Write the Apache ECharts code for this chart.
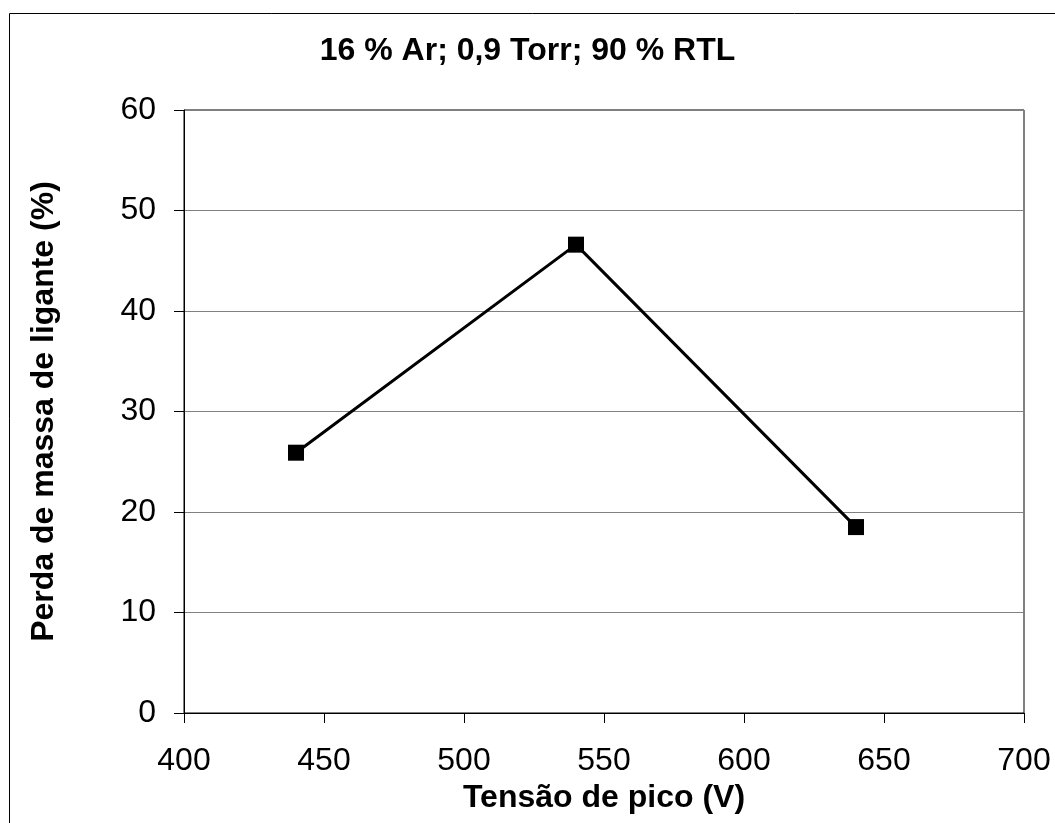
<!DOCTYPE html>
<html lang="pt">
<head>
    <meta charset="UTF-8">
    <title>Perda de massa de ligante</title>
    <script src="https://cdn.jsdelivr.net/npm/echarts@6.0.0/dist/echarts.min.js"></script>
    <style>
        body { margin: 0; padding: 0; background: #fff; }
        #chart { width: 1055px; height: 823px; }
    </style>
</head>
<body>
<div id="chart"></div>
<script>
// dados
const tensao = [440, 540, 640];
const perda = [25.9, 46.6, 18.5];
const titulo = '16 % Ar; 0,9 Torr; 90 % RTL';
const nomeX = 'Tensão de pico (V)';
const nomeY = 'Perda de massa de ligante (%)';

const fonte = '"Liberation Sans", Arial, sans-serif';
const chart = echarts.init(document.getElementById('chart'));

chart.setOption({
    animation: false,
    backgroundColor: '#fff',
    title: {
        text: titulo,
        left: 'center',
        top: 30,
        textStyle: { fontFamily: fonte, fontSize: 32, fontWeight: 'bold', color: '#000' }
    },
    graphic: [{
        type: 'rect',
        shape: { x: 9.5, y: 13.5, width: 1100, height: 900 },
        style: { fill: 'none', stroke: '#000', lineWidth: 1 },
        z: -1
    }],
    grid: { left: 184, right: 31, top: 110, bottom: 110, show: true, borderColor: '#000', borderWidth: 1 },
    xAxis: {
        type: 'value',
        min: 400, max: 700, interval: 50,
        name: nomeX,
        nameLocation: 'middle',
        nameGap: 49,
        nameTextStyle: { fontFamily: fonte, fontSize: 32, fontWeight: 'bold', color: '#000' },
        axisLine: { onZero: false, lineStyle: { color: '#000', width: 1 } },
        axisTick: { show: true, inside: false, length: 10, lineStyle: { color: '#000' } },
        axisLabel: { fontFamily: fonte, fontSize: 32, color: '#000', margin: 32 },
        splitLine: { show: false }
    },
    yAxis: {
        type: 'value',
        min: 0, max: 60, interval: 10,
        name: nomeY,
        nameLocation: 'middle',
        nameRotate: 90,
        nameGap: 124,
        nameTextStyle: { fontFamily: fonte, fontSize: 32, fontWeight: 'bold', color: '#000' },
        axisLine: { show: true, lineStyle: { color: '#000', width: 1 } },
        axisTick: { show: true, inside: false, length: 10, lineStyle: { color: '#000' } },
        axisLabel: { fontFamily: fonte, fontSize: 32, color: '#000', margin: 28 },
        splitLine: { show: true, lineStyle: { color: '#808080', width: 1 } }
    },
    series: [{
        type: 'line',
        data: tensao.map((t, i) => [t, perda[i]]),
        symbol: 'rect',
        symbolSize: 16,
        lineStyle: { color: '#000', width: 3 },
        itemStyle: { color: '#000' }
    }]
});
</script>
</body>
</html>
